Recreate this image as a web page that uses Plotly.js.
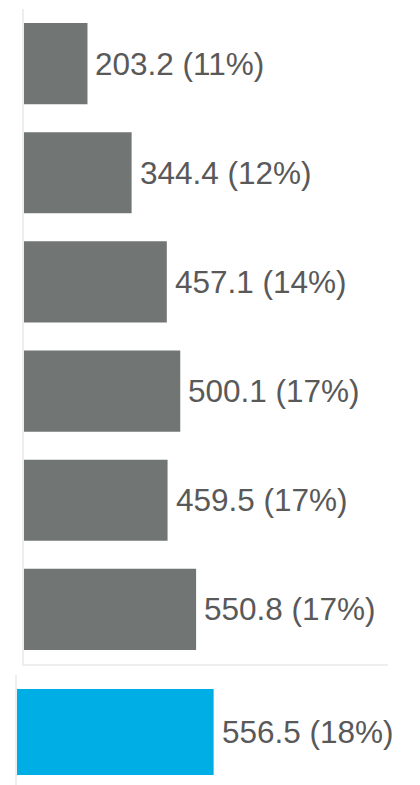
<!DOCTYPE html>
<html>
<head>
<meta charset="utf-8">
<script src="https://cdn.plot.ly/plotly-3.0.1.min.js"></script>
<style>html,body{margin:0;padding:0;background:#fff;}#chart{width:420px;height:785px;}</style>
</head>
<body>
<div id="chart"></div>
<script>
// Top panel (grey bars), top to bottom
const categories = ["P1", "P2", "P3", "P4", "P5", "P6"];
const values = [203.2, 344.4, 457.1, 500.1, 459.5, 550.8];
const shares = ["11%", "12%", "14%", "17%", "17%", "17%"];
// Bottom panel (highlighted bar)
const highlightCategory = ["Total"];
const highlightValue = [556.5];
const highlightShare = ["18%"];

const W = 420, H = 785;
const px = v => v / W;
const py = v => 1 - v / H;

const GREY = "#717674";
const BLUE = "#00AEE6";
const TEXT = "#595959";
const LINE = "#eeeeee";
const FONT = "Liberation Sans, Arial, sans-serif";

const labels = values.map((v, i) => v.toFixed(1) + " (" + shares[i] + ")");
const hlLabels = highlightValue.map((v, i) => v.toFixed(1) + " (" + highlightShare[i] + ")");

const traces = [
  {
    type: "bar", orientation: "h",
    x: values, y: categories,
    marker: {color: GREY},
    xaxis: "x", yaxis: "y",
    hoverinfo: "none"
  },
  {
    type: "bar", orientation: "h",
    x: highlightValue, y: [0],
    marker: {color: BLUE},
    width: [0.74],
    xaxis: "x2", yaxis: "y2",
    hoverinfo: "none"
  }
];

const annotations = [];
values.forEach((v, i) => {
  annotations.push({
    x: v, y: categories[i], xref: "x", yref: "y",
    text: labels[i], showarrow: false, xanchor: "left", yanchor: "middle",
    xshift: 6, font: {family: FONT, size: 31.5, color: TEXT}
  });
});
highlightValue.forEach((v, i) => {
  annotations.push({
    x: v, y: 0, xref: "x2", yref: "y2",
    text: hlLabels[i], showarrow: false, xanchor: "left", yanchor: "middle",
    xshift: 6, font: {family: FONT, size: 31.5, color: TEXT}
  });
});

const layout = {
  width: W, height: H,
  margin: {l: 0, r: 0, t: 0, b: 0},
  paper_bgcolor: "#fff", plot_bgcolor: "#fff",
  showlegend: false,
  bargap: 0.257,
  xaxis: {
    domain: [px(24), px(388)], range: [0, 1165],
    showgrid: false, zeroline: false, showticklabels: false, ticks: "",
    showline: true, linecolor: LINE, linewidth: 2, anchor: "y"
  },
  yaxis: {
    domain: [py(664), py(9)], autorange: "reversed", type: "category",
    showgrid: false, zeroline: false, showticklabels: false, ticks: "",
    showline: true, linecolor: LINE, linewidth: 2, anchor: "x"
  },
  xaxis2: {
    domain: [px(17), px(388)], range: [0, 1050],
    showgrid: false, zeroline: false, showticklabels: false, ticks: "",
    showline: false, anchor: "y2"
  },
  yaxis2: {
    domain: [0, py(675)], range: [-0.456, 0.49],
    showgrid: false, zeroline: false, showticklabels: false, ticks: "",
    showline: true, linecolor: LINE, linewidth: 2, anchor: "x2"
  },
  xaxis3: {
    domain: [px(408), 1], range: [0, 1],
    showgrid: false, zeroline: false, showticklabels: false, ticks: "",
    showline: true, linecolor: LINE, linewidth: 2, side: "top", anchor: "y3"
  },
  yaxis3: {
    domain: [py(662), py(598)], range: [0, 1],
    showgrid: false, zeroline: false, showticklabels: false, ticks: "",
    showline: true, linecolor: LINE, linewidth: 2, anchor: "x3"
  },
  annotations: annotations
};

Plotly.newPlot("chart", traces, layout, {displayModeBar: false, staticPlot: true});
</script>
</body>
</html>
